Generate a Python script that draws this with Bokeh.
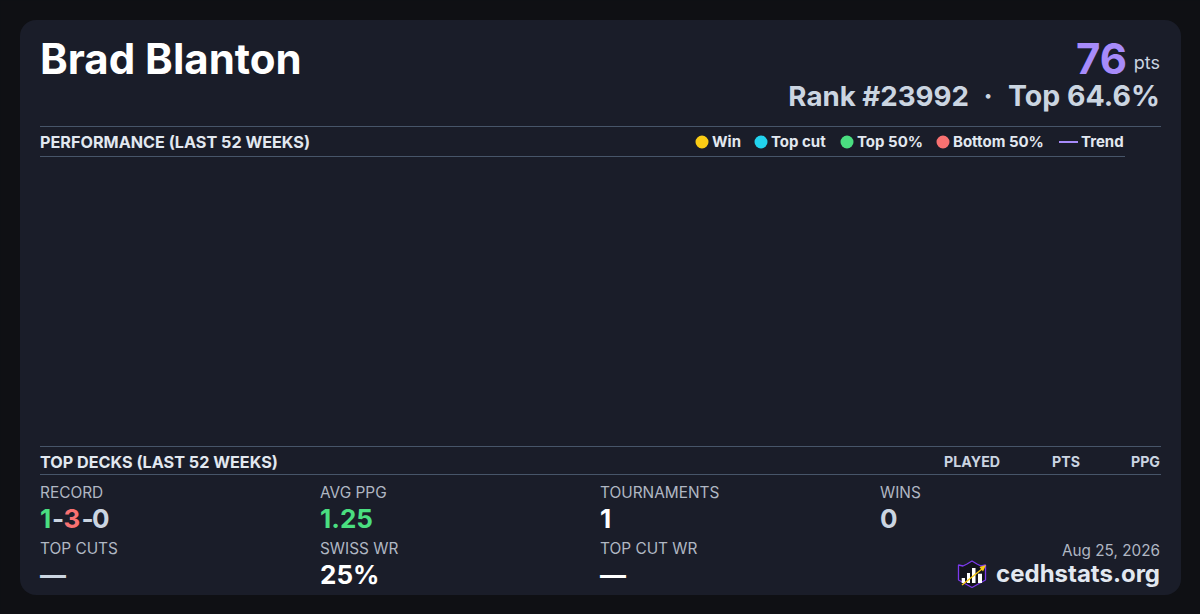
from bokeh.plotting import figure
from bokeh.models import Range1d, GlobalInlineStyleSheet
from bokeh.core.properties import value
from bokeh.embed import file_html
from bokeh.resources import INLINE

player_name = "Brad Blanton"
points = "76"
points_unit = "pts"
rank_text = "Rank #23992"
rank_sep = "·"
top_text = "Top 64.6%"
perf_title = "PERFORMANCE (LAST 52 WEEKS)"
decks_title = "TOP DECKS (LAST 52 WEEKS)"
deck_columns = ["PLAYED", "PTS", "PPG"]
legend_labels = ["Win", "Top cut", "Top 50%", "Bottom 50%"]
legend_colors = ["#facc15", "#22d3ee", "#4ade80", "#f87171"]
trend_label = "Trend"
stat_labels = ["RECORD", "AVG PPG", "TOURNAMENTS", "WINS", "TOP CUTS", "SWISS WR", "TOP CUT WR"]
stat_values = ["1.25", "1", "0", "—", "25%", "—"]
record_parts = ["1", "-", "3", "-", "0"]
date_text = "Aug 25, 2026"
brand = "cedhstats.org"

BG = "#0f1014"; CARD = "#1a1d29"; RULE = "#475569"
F = value("Inter")

p = figure(width=1200, height=614, output_backend="svg", toolbar_location=None,
           x_range=Range1d(0.5, 1200.5), y_range=Range1d(614.5, 0.5),
           min_border=0, outline_line_color=None, background_fill_color=BG, border_fill_color=BG,
           stylesheets=[GlobalInlineStyleSheet(css="html,body{margin:0;padding:0;background:#0f1014;overflow:hidden}")])
p.axis.visible = False
p.grid.visible = False

p.quad(left=[20], right=[1181], top=[20], bottom=[595], fill_color=CARD, line_color=None, border_radius=16)

def T(x, y, s, size, color, bold=False, align="left"):
    # the svg text anchor sits below the requested baseline by this share of the size
    yy = y - 0.33 * size
    p.text([x], [yy], text=[s], text_font=F, text_font_size=f"{size}px", text_color=color,
           text_font_style="bold" if bold else "normal", text_align=align, text_baseline="alphabetic")

def H(x0, x1, y):
    p.segment([x0], [y], [x1], [y], line_color=RULE, line_width=1)

T(40, 72, player_name, 42, "#ffffff", True)
T(1127, 72, points, 42, "#a78bfa", True, "right")
T(1160, 68, points_unit, 18, "#cbd5e1", False, "right")
T(969, 105, rank_text, 27.7, "#cbd5e1", True, "right")
T(988, 105, rank_sep, 27.7, "#cbd5e1", True, "center")
T(1160, 105, top_text, 28.5, "#cbd5e1", True, "right")

H(40, 1161, 126.5); H(40, 1125, 156.5)
T(40, 147, perf_title, 16.2, "#e2e8f0", True)
lx = [702, 761, 847, 943]; tx = [712, 771, 857, 953]
for x, t, l, c in zip(lx, tx, legend_labels, legend_colors):
    p.scatter([x], [142], size=13, marker="circle", fill_color=c, line_color=None)
    T(t, 146.5, l, 15, "#e2e8f0", True)
p.segment([1059], [142], [1078], [142], line_color="#a78bfa", line_width=2)
T(1081, 146.5, trend_label, 15, "#e2e8f0", True)

H(40, 1161, 446.5); H(40, 1161, 474.5)
T(40, 467, decks_title, 16.2, "#e2e8f0", True)
for x, c in zip([1000, 1080, 1160], deck_columns):
    T(x, 466, c, 14.2, "#cbd5e1", True, "right")

col = [40, 320, 600, 880, 40, 320, 600]
row = [498, 498, 498, 498, 554, 554, 554]
for x, y, s in zip(col, row, stat_labels):
    T(x, y, s, 15.4, "#b0b7c3")

for x, c, s in zip([40, 52, 63.5, 81.5, 92], ["#4ade80", "#cbd5e1", "#f87171", "#cbd5e1", "#cbd5e1"], record_parts):
    T(x, 527, s, 26, c, True)
for x, y, s, c in zip([320, 600, 880, 40, 320, 600], [527, 527, 527, 583, 583, 583], stat_values,
                      ["#4ade80", "#ffffff", "#cbd5e1", "#cbd5e1", "#ffffff", "#ffffff"]):
    T(x, y, s, 26, c, True)

T(1160, 556, date_text, 15.3, "#b0b7c3", False, "right")
T(1160, 581, brand, 24, "#e2e8f0", True, "right")

# brand mark: crowned shield, four bars and a rising arrow
p.patch([958.5, 963, 967, 972, 977, 981, 985.5, 985.5, 972, 958.5],
        [565, 566, 564, 561, 564, 566, 565, 580, 587.5, 580],
        fill_color="#12131c", line_color="#7c3aed", line_width=1.3)
p.quad(left=[961.7, 967, 972, 978], right=[965, 970, 975.5, 982],
       top=[578, 573, 568, 573.7], bottom=[583, 583, 583, 583], fill_color="#ffffff", line_color=None)
p.segment([962], [585], [982], [569], line_color="#facc15", line_width=1.5)
p.patch([986, 979.5, 983], [565, 567, 571.5], fill_color="#facc15", line_color=None)

open("out.html", "w").write(file_html(p, INLINE))
